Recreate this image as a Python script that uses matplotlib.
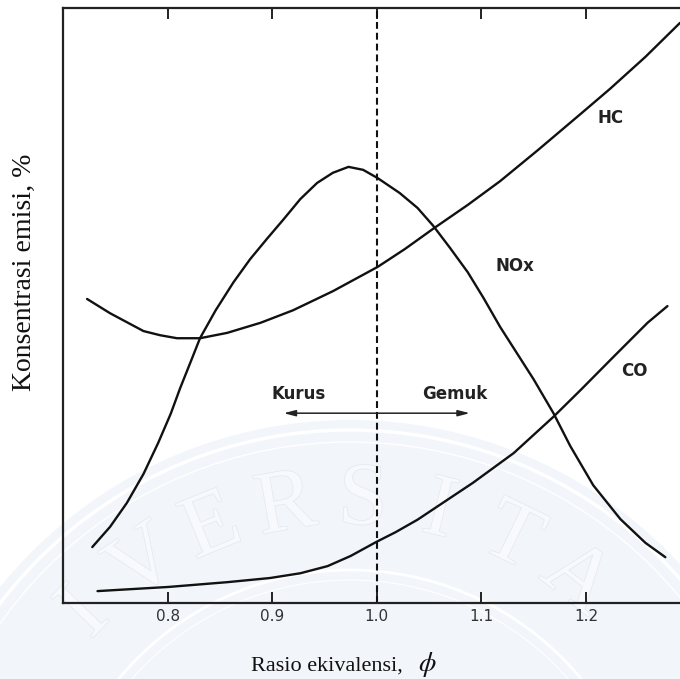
import matplotlib
matplotlib.use("Agg")
import matplotlib.pyplot as plt
import matplotlib.patheffects as pe
import numpy as np
from matplotlib.patches import Circle

plt.rcParams["mathtext.fontset"] = "stix"

# values (x = equivalence ratio, y = arbitrary %)
hc_x = [0.723, 0.745, 0.777, 0.793, 0.809, 0.831, 0.857, 0.889, 0.920, 0.958,
        1.001, 1.027, 1.054, 1.087, 1.118, 1.154, 1.195, 1.223, 1.257, 1.290]
hc_y = [51.1, 48.7, 45.7, 45.0, 44.5, 44.5, 45.4, 47.1, 49.2, 52.4,
        56.5, 59.5, 62.9, 66.9, 70.9, 76.1, 82.2, 86.4, 91.8, 97.5]

nox_x = [0.728, 0.745, 0.761, 0.777, 0.791, 0.803, 0.812, 0.822, 0.831, 0.846,
         0.863, 0.879, 0.895, 0.911, 0.927, 0.943, 0.958, 0.973, 0.987, 1.001,
         1.022, 1.039, 1.054, 1.070, 1.087, 1.102, 1.118, 1.134, 1.150, 1.161,
         1.169, 1.185, 1.207, 1.233, 1.257, 1.276]
nox_y = [9.4, 12.8, 16.8, 21.7, 26.9, 31.8, 36.1, 40.5, 44.5, 49.2,
         53.9, 57.8, 61.2, 64.5, 67.9, 70.6, 72.3, 73.3, 72.8, 71.4,
         68.9, 66.4, 63.4, 59.7, 55.6, 51.3, 46.4, 42.0, 37.6, 34.3,
         31.9, 26.4, 19.8, 14.1, 10.1, 7.7]

co_x = [0.733, 0.801, 0.857, 0.898, 0.927, 0.953, 0.975, 1.000, 1.018, 1.039,
        1.092, 1.131, 1.169, 1.195, 1.226, 1.259, 1.278]
co_y = [2.0, 2.7, 3.5, 4.2, 5.0, 6.2, 7.9, 10.3, 11.9, 14.0,
        20.2, 25.2, 31.3, 35.8, 41.3, 47.1, 49.9]

xticks = [0.8, 0.9, 1.0, 1.1, 1.2]
xtick_labels = ["0.8", "0.9", "1.0", "1.1", "1.2"]

fig = plt.figure(figsize=(6.8, 6.79), dpi=100)

# faint university watermark behind the chart
bg = fig.add_axes([0, 0, 1, 1], zorder=0)
bg.set_xlim(0, 680)
bg.set_ylim(679, 0)
bg.axis("off")
cx, cy = 350, 870
bg.add_patch(Circle((cx, cy), 450, facecolor="#f2f5fa", edgecolor="none"))
for r, lw in [(440, 2.5), (428, 1.0), (300, 2.0), (290, 0.8)]:
    bg.add_patch(Circle((cx, cy), r, facecolor="none", edgecolor="white", lw=lw))
for i, ch in enumerate("IVERSITA"):
    th = np.radians(-46 + i * 12)
    bg.text(cx + 368 * np.sin(th), cy - 368 * np.cos(th), ch, fontsize=64,
            family="Liberation Serif", color="#f8f9fc",
            rotation=-np.degrees(th), ha="center", va="center",
            path_effects=[pe.withStroke(linewidth=1.0, foreground="#e3e8f0")])

ax = fig.add_axes([63 / 680, 1 - 603 / 679, 1 - 63 / 680, (603 - 8) / 679], zorder=1)
ax.set_facecolor("none")

line_kw = dict(color="#111111", lw=1.7, solid_capstyle="round", solid_joinstyle="round")
ax.plot(hc_x, hc_y, **line_kw)
ax.plot(nox_x, nox_y, **line_kw)
ax.plot(co_x, co_y, **line_kw)

ax.axvline(1.0, color="#111111", lw=1.5, ls=(0, (3.3, 1.9)))

ax.set_xlim(0.70, 1.29)
ax.set_ylim(0, 100)
ax.set_xticks(xticks)
ax.set_xticklabels(xtick_labels)
ax.set_yticks([])
ax.tick_params(axis="x", direction="in", length=8, width=1.4, top=True,
               color="#222222", labelsize=11, labelcolor="#333333", pad=4)

for side in ["left", "bottom", "top"]:
    ax.spines[side].set_linewidth(1.6)
    ax.spines[side].set_color("#222222")
ax.spines["right"].set_visible(False)

lab_kw = dict(fontsize=12, fontweight="bold", color="#222222",
              ha="center", va="center", family="DejaVu Sans")
ax.text(1.224, 81.5, "HC", **lab_kw)
ax.text(1.132, 56.6, "NOx", **lab_kw)
ax.text(1.246, 39.0, "CO", **lab_kw)
ax.text(0.925, 35.1, "Kurus", **lab_kw)
ax.text(1.075, 35.1, "Gemuk", **lab_kw)

ax.annotate("", xy=(0.911, 31.9), xytext=(1.089, 31.9),
            arrowprops=dict(arrowstyle="<|-|>,head_length=0.7,head_width=0.18",
                            color="#222222", lw=1.1, shrinkA=0, shrinkB=0))

fig.text(251 / 680, 1 - 671 / 679, "Rasio ekivalensi,", fontsize=16,
         family="Liberation Serif", ha="left", va="baseline", color="#111111")
fig.text(427 / 680, 1 - 671 / 679, r"$\phi$", fontsize=20,
         ha="center", va="baseline", color="#111111")
fig.text(24 / 680, 1 - 272 / 679, "Konsentrasi emisi, %", fontsize=20,
         family="Liberation Serif", rotation=90, ha="center", va="center",
         color="#111111")

fig.savefig("out.png", dpi=100)
